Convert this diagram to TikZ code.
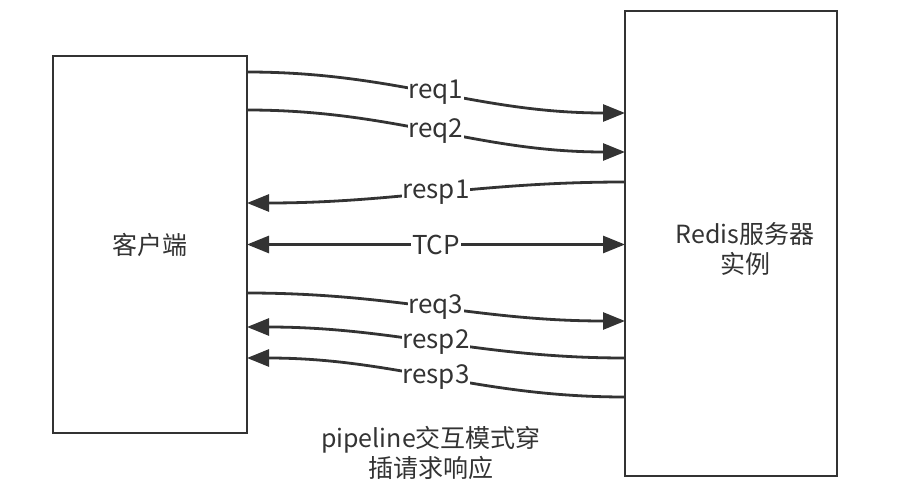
\documentclass[tikz,border=0pt]{standalone}
\usepackage{fontspec}
\setmainfont{Noto Sans CJK SC}
\usetikzlibrary{arrows.meta}
\definecolor{linegray}{HTML}{333333}
\tikzset{%
    box/.style={
      rectangle,
      draw=linegray,
      line width=2.5pt,
      outer sep=0pt,
      text=linegray,
      align=center,
      font=\fontsize{25}{30}\selectfont
    },
    msg/.style={
      draw=linegray,
      line width=2.8pt,
      -{Triangle[length=22pt,width=17pt]}
    },
    both/.style={
      msg,
      {Triangle[length=22pt,width=17pt]}-{Triangle[length=22pt,width=17pt]}
    },
    tag/.style={
      fill=white,
      inner sep=1pt,
      text=linegray,
      font=\fontsize{26}{30}\selectfont
    }
  }
\begin{document}
\begin{tikzpicture}[x=1pt, y=-1pt]
      \useasboundingbox (0,0) rectangle (911,497);

      \node [box, minimum width=194pt, minimum height=377pt] (client) at (150,244.5) {客户端};
      \node [box, minimum width=212pt, minimum height=465pt] (redis) at (731,243.5) {};
      \node [box, draw=none, xshift=14pt, yshift=-6pt] (redistext) at (redis.center) {Redis服务器\\实例};

      \draw [msg] ([yshift=-16pt]client.north east) to[out=0, in=180]
            node [tag] (l1) {req1} ([yshift=-102pt]redis.north west);
      \draw [msg] ([yshift=-54pt]client.north east) to[out=0, in=180]
            node [tag] (l2) {req2} ([yshift=-141pt]redis.north west);
      \draw [msg] ([yshift=-171pt]redis.north west) to[out=180, in=0]
            node [tag] (l3) {resp1} ([yshift=-147pt]client.north east);

      \draw [both] (client.east) -- node [tag] (l4) {TCP} (client.east -| redis.west);

      \draw [msg] ([yshift=-237pt]client.north east) to[out=0, in=180]
            node [tag] (l5) {req3} ([yshift=-310pt]redis.north west);
      \draw [msg] ([yshift=-347pt]redis.north west) to[out=180, in=0]
            node [tag] (l6) {resp2} ([yshift=-271pt]client.north east);
      \draw [msg] ([yshift=-386pt]redis.north west) to[out=180, in=0]
            node [tag] (l7) {resp3} ([yshift=-302pt]client.north east);

      \node [tag, align=center, font=\fontsize{25}{30}\selectfont] (note) at (431,453) {pipeline交互模式穿\\插请求响应};

    \end{tikzpicture}
\end{document}
